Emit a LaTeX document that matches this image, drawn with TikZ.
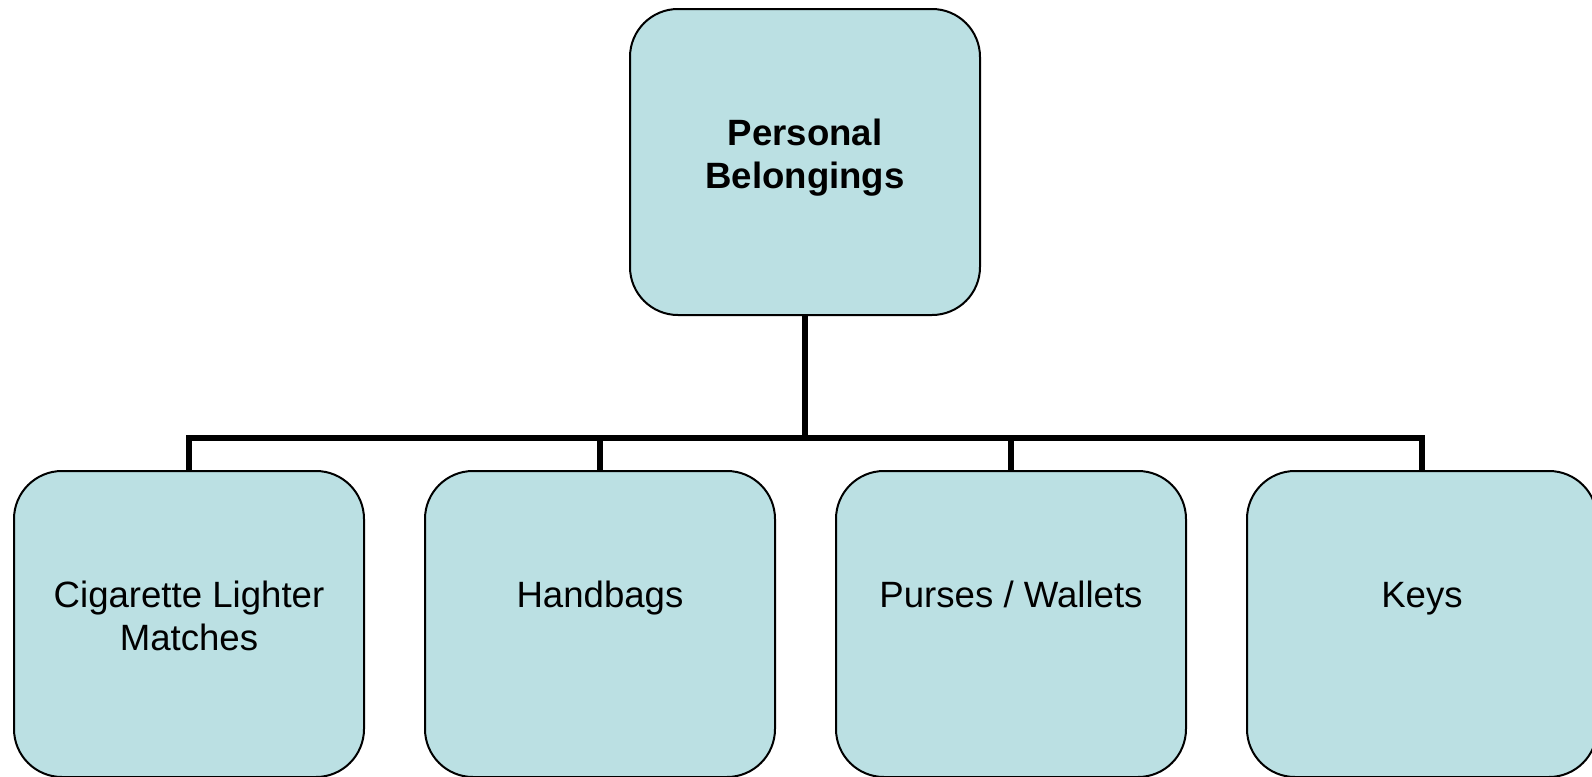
\documentclass[tikz,border=0pt]{standalone}
\usepackage{fontspec}
\setmainfont{Liberation Sans}
\usetikzlibrary{calc}
\definecolor{boxfill}{RGB}{187,224,227}
\begin{document}
\begin{tikzpicture}[x=0.5pt,y=-0.5pt,
  box/.style={draw=black, line width=1pt, fill=boxfill, rounded corners=24pt,
    minimum width=175pt, minimum height=153pt, inner sep=0pt, anchor=north},
  lbl/.style={font=\fontsize{18.3}{21.5}\selectfont, align=center, inner sep=0pt, anchor=north},
  link/.style={line width=3pt}]
\useasboundingbox (0,0) rectangle (1592,777);
\clip (0,0) rectangle (1592,777);

% boxes
\node[box] (top) at (805,8) {};
\node[box] (c1) at (189,470) {};
\node[box] (c2) at (600,470) {};
\node[box] (c3) at (1011,470) {};
\node[box] (c4) at (1422,470) {};

% labels: first baseline sits 137px under the box top
\node[lbl, font=\fontsize{18.3}{21.5}\selectfont\bfseries] (t0) at ($(top.north)+(0,109)$) {\rule{0pt}{14pt}Personal\\Belongings};
\node[lbl] (t1) at ($(c1.north)+(0,109)$) {\rule{0pt}{14pt}Cigarette Lighter\\Matches};
\node[lbl] (t2) at ($(c2.north)+(0,109)$) {\rule{0pt}{14pt}Handbags};
\node[lbl] (t3) at ($(c3.north)+(0,109)$) {\rule{0pt}{14pt}Purses / Wallets};
\node[lbl] (t4) at ($(c4.north)+(0,109)$) {\rule{0pt}{14pt}Keys};

% connectors
\coordinate (hub) at (805,438);
\draw[link] (top.south) -- (hub);
\draw[link] (c1.north) -- (c1.north |- hub) -- (c4.north |- hub) -- (c4.north);
\draw[link] (c2.north) -- (c2.north |- hub);
\draw[link] (c3.north) -- (c3.north |- hub);
\end{tikzpicture}
\end{document}
